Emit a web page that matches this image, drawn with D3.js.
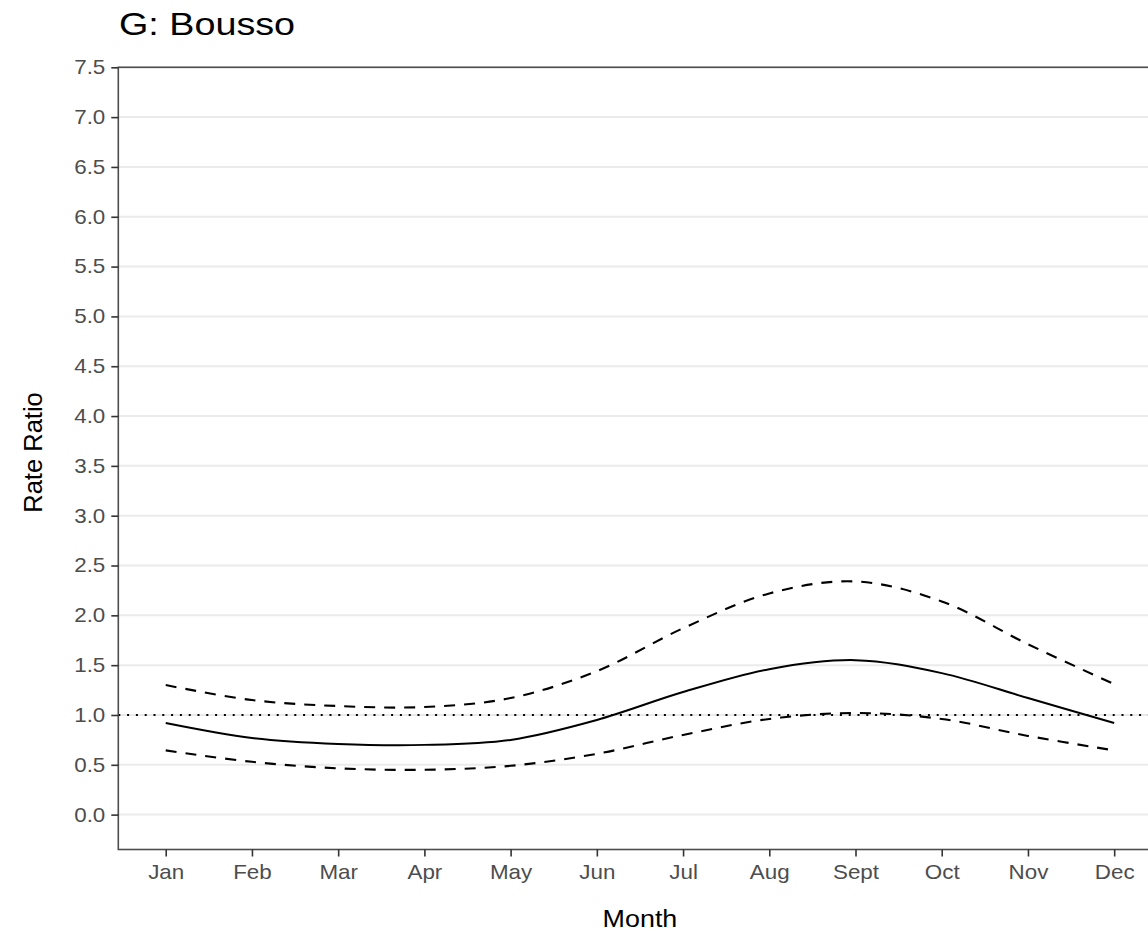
<!DOCTYPE html>
<html>
<head>
<meta charset="utf-8">
<script src="https://cdn.jsdelivr.net/npm/d3@7"></script>
<style>
  body { margin: 0; background: #fff; }
  text { font-family: "Liberation Sans", Arial, sans-serif; }
</style>
</head>
<body>
<svg id="chart" width="1148" height="932"></svg>
<script>
// data
var months = ["Jan", "Feb", "Mar", "Apr", "May", "Jun", "Jul", "Aug", "Sept", "Oct", "Nov", "Dec"];
var estimate = [0.92, 0.77, 0.71, 0.70, 0.75, 0.95, 1.23, 1.46, 1.55, 1.42, 1.17, 0.92];
var upper = [1.30, 1.15, 1.09, 1.08, 1.17, 1.44, 1.87, 2.22, 2.34, 2.14, 1.71, 1.31];
var lower = [0.645, 0.53, 0.465, 0.45, 0.49, 0.61, 0.80, 0.96, 1.02, 0.96, 0.79, 0.645];
var yTicks = [0, 0.5, 1, 1.5, 2, 2.5, 3, 3.5, 4, 4.5, 5, 5.5, 6, 6.5, 7, 7.5];
var refLine = 1;

var svg = d3.select('#chart');
var pLeft = 118.3, pRight = 1161.6, pTop = 67.3, pBottom = 849.5;
var stretch = 1.12; // text in the picture is a bit wider than Arial

var x = d3.scaleLinear().domain([0.45, 12.55]).range([pLeft, pRight]);
var y = d3.scaleLinear().domain([-0.35, 7.5]).range([pBottom, pTop]);

// grid lines (horizontal only)
svg.append('g')
  .selectAll('line')
  .data(yTicks)
  .join('line')
  .attr('x1', pLeft).attr('x2', pRight)
  .attr('y1', d => y(d)).attr('y2', d => y(d))
  .attr('stroke', '#ebebeb')
  .attr('stroke-width', 2);

// reference line at 1
svg.append('line')
  .attr('x1', pLeft).attr('x2', pRight)
  .attr('y1', y(refLine)).attr('y2', y(refLine))
  .attr('stroke', '#000')
  .attr('stroke-width', 2)
  .attr('stroke-dasharray', '2,6.8');

var line = d3.line()
  .x((d, i) => x(i + 1))
  .y(d => y(d))
  .curve(d3.curveCatmullRom);

svg.append('path').attr('d', line(upper))
  .attr('fill', 'none').attr('stroke', '#000').attr('stroke-width', 2.1)
  .attr('stroke-dasharray', '11,9');
svg.append('path').attr('d', line(lower))
  .attr('fill', 'none').attr('stroke', '#000').attr('stroke-width', 2.1)
  .attr('stroke-dasharray', '11,9');
svg.append('path').attr('d', line(estimate))
  .attr('fill', 'none').attr('stroke', '#000').attr('stroke-width', 2);

// panel border
svg.append('rect')
  .attr('x', pLeft).attr('y', pTop)
  .attr('width', pRight - pLeft).attr('height', pBottom - pTop)
  .attr('fill', 'none').attr('stroke', '#4d4d4d').attr('stroke-width', 1.6);

// axes
var xAxis = d3.axisBottom(x)
  .tickValues(d3.range(1, 13))
  .tickFormat(d => months[d - 1])
  .tickSize(7).tickPadding(6);
var gx = svg.append('g').attr('transform', 'translate(0,' + pBottom + ')').call(xAxis);
gx.select('.domain').remove();
gx.selectAll('line').attr('stroke', '#333').attr('stroke-width', 1.6);
gx.selectAll('text').attr('fill', '#4d4d4d').style('font-size', '20px')
  .attr('dy', null).attr('y', 30)
  .attr('transform', 'scale(' + stretch + ',1)');

var yAxis = d3.axisLeft(y)
  .tickValues(yTicks)
  .tickFormat(d3.format('.1f'))
  .tickSize(7).tickPadding(5);
var gy = svg.append('g').attr('transform', 'translate(' + pLeft + ',0)').call(yAxis);
gy.select('.domain').remove();
gy.selectAll('line').attr('stroke', '#333').attr('stroke-width', 1.6);
gy.selectAll('text').attr('fill', '#4d4d4d').style('font-size', '20px')
  .attr('x', -13 / stretch)
  .attr('transform', 'scale(' + stretch + ',1)');

// titles
svg.append('text')
  .attr('transform', 'translate(119,35) scale(1.19,1)')
  .style('font-size', '31.7px')
  .attr('fill', '#000')
  .text('G: Bousso');

svg.append('text')
  .attr('transform', 'translate(' + ((pLeft + pRight) / 2) + ',927) scale(' + stretch + ',1)')
  .attr('text-anchor', 'middle')
  .style('font-size', '24px')
  .text('Month');

svg.append('text')
  .attr('transform', 'translate(42,452.5) rotate(-90)')
  .attr('text-anchor', 'middle')
  .style('font-size', '25.5px')
  .text('Rate Ratio');
</script>
</body>
</html>
